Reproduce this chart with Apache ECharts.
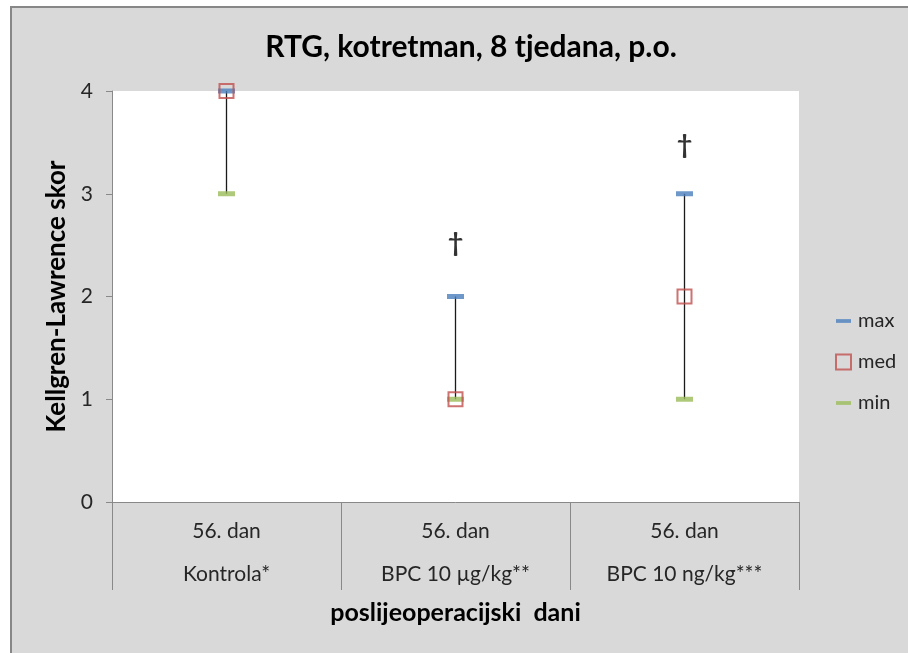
<!DOCTYPE html>
<html>
<head>
<meta charset="utf-8">
<script src="https://cdn.jsdelivr.net/npm/echarts@6/dist/echarts.min.js"></script>
<style>
    html, body { margin: 0; padding: 0; background: #fff; }
    #chart { width: 908px; height: 653px; }
</style>
</head>
<body>
<div id="chart"></div>
<script>
// podaci
var dayLabels = ["56. dan", "56. dan", "56. dan"];
var groupLabels = ["Kontrola*", "BPC 10 µg/kg**", "BPC 10 ng/kg***"];
var maxValues = [4, 2, 3];
var medValues = [4, 1, 2];
var minValues = [3, 1, 1];
var daggerValues = [null, 2.52, 3.47];
var yTicks = [0, 1, 2, 3, 4];

var FONT = "Lato, 'Open Sans', sans-serif";

var chart = echarts.init(document.getElementById("chart"));

/**
 * linija min-max za svaku skupinu
 */
function renderHighLow(params, api) {
    var lo = api.coord([api.value(0), api.value(1)]);
    var hi = api.coord([api.value(0), api.value(2)]);
    return {
        type: "line",
        shape: { x1: lo[0], y1: lo[1], x2: hi[0], y2: hi[1] },
        style: { stroke: "#1a1a1a", lineWidth: 1.3 }
    };
}

var hlData = groupLabels.map(function (g, i) {
    return [i, minValues[i], maxValues[i]];
});

chart.setOption({
    backgroundColor: "#ffffff",
    animation: false,
    textStyle: { fontFamily: FONT },
    graphic: [{
        type: "rect",
        z: -100,
        shape: { x: 11, y: 7, width: 1000, height: 1000 },
        style: { fill: "#d9d9d9", stroke: "#878787", lineWidth: 2 }
    }],
    title: {
        text: "RTG, kotretman, 8 tjedana, p.o.",
        left: 466,
        textAlign: "center",
        top: 27,
        textStyle: { fontSize: 30, fontWeight: "bold", color: "#000", fontFamily: FONT }
    },
    legend: {
        orient: "vertical",
        left: 830,
        top: 306,
        itemWidth: 15,
        itemHeight: 15,
        itemGap: 21,
        selectedMode: false,
        textStyle: { fontSize: 20, color: "#262626", fontFamily: FONT, padding: [0, 0, 0, 2] },
        data: [
            { name: "max", icon: "path://M0,0H16V4H0Z" },
            { name: "med", icon: "rect" },
            { name: "min", icon: "path://M0,0H16V4H0Z" }
        ]
    },
    grid: {
        left: 112,
        right: 109,
        top: 91,
        bottom: 151,
        show: true,
        backgroundColor: "#ffffff",
        borderWidth: 0
    },
    xAxis: {
        type: "category",
        data: groupLabels,
        name: "poslijeoperacijski  dani",
        nameLocation: "middle",
        nameGap: 96,
        nameTextStyle: { fontSize: 25, fontWeight: "bold", color: "#000", fontFamily: FONT },
        axisLine: { lineStyle: { color: "#898989", width: 1 } },
        axisTick: { show: true, length: 88, lineStyle: { color: "#898989" } },
        axisLabel: {
            margin: 8,
            fontSize: 21,
            lineHeight: 43,
            color: "#262626",
            formatter: function (v, i) {
                return dayLabels[i] + "\n" + groupLabels[i];
            }
        },
        splitLine: { show: false }
    },
    yAxis: {
        type: "value",
        min: yTicks[0],
        max: yTicks[yTicks.length - 1],
        interval: 1,
        name: "Kellgren-Lawrence skor",
        nameLocation: "middle",
        nameRotate: 90,
        nameGap: 42,
        nameTextStyle: { fontSize: 26, fontWeight: "bold", color: "#000", fontFamily: FONT },
        axisLine: { show: true, lineStyle: { color: "#898989", width: 1 } },
        axisTick: { show: true, length: 6, lineStyle: { color: "#898989" } },
        axisLabel: { fontSize: 21, color: "#262626", margin: 19 },
        splitLine: { show: false }
    },
    series: [
        {
            name: "hl",
            type: "custom",
            renderItem: renderHighLow,
            data: hlData,
            z: 1,
            clip: false
        },
        {
            name: "max",
            type: "scatter",
            data: maxValues,
            symbol: "rect",
            symbolSize: [17, 5],
            itemStyle: { color: "#4a7ebb" },
            z: 3,
            clip: false
        },
        {
            name: "min",
            type: "scatter",
            data: minValues,
            symbol: "rect",
            symbolSize: [17, 5],
            itemStyle: { color: "#9bbb59" },
            z: 3,
            clip: false
        },
        {
            name: "med",
            type: "scatter",
            data: medValues,
            symbol: "rect",
            symbolSize: 14,
            itemStyle: { color: "transparent", borderColor: "#c0504d", borderWidth: 2 },
            z: 4,
            clip: false
        },
        {
            name: "dagger",
            type: "scatter",
            data: daggerValues,
            symbolSize: 0,
            clip: false,
            label: {
                show: true,
                position: "inside",
                formatter: "†",
                fontSize: 27,
                fontWeight: "bold",
                color: "#000",
                fontFamily: FONT
            },
            z: 5
        }
    ]
});
</script>
</body>
</html>
